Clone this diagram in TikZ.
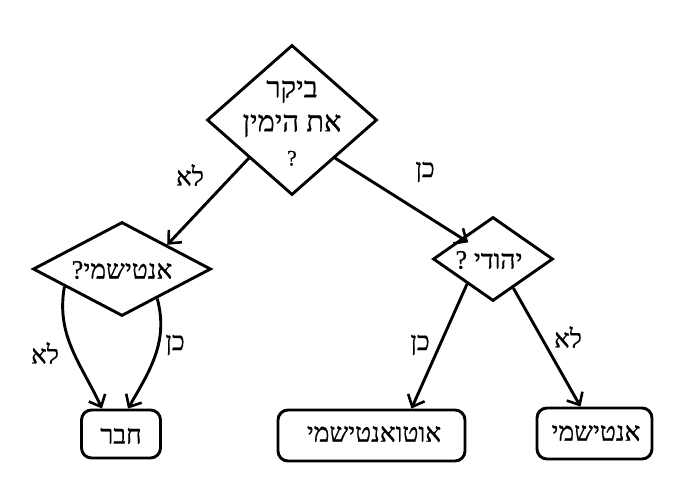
\documentclass[tikz,border=0pt]{standalone}
\usepackage{fontspec}
\usetikzlibrary{shapes.geometric,arrows.meta}
\TeXXeTstate=1
\newfontfamily\heb[Script=Hebrew,FakeBold=0.7]{Liberation Serif}
\begin{document}
\begin{tikzpicture}[x=1pt,y=-1pt,
  line width=2.9pt,
  every node/.style={inner sep=0pt},
  dia/.style={diamond,draw,line width=2.9pt},
  box/.style={draw,rounded corners=10pt,line width=2.9pt},
  arr/.style={-{Straight Barb[length=10pt,width=18pt,line width=2.6pt]},line width=2.9pt},
  big/.style={font=\heb\fontsize{29}{34}\selectfont,align=center},
  mid/.style={font=\heb\fontsize{26.5}{28}\selectfont},
  lab/.style={font=\heb\fontsize{26}{28}\selectfont}]
\useasboundingbox (0,0) rectangle (686,499);
% diamonds
\node[dia,minimum width=170pt,minimum height=150pt] (q1) at (292,120) {};
\node[big] (t1) at (292,123) {\beginR ביקר\endR\\\beginR את הימין\endR\\{\fontsize{22}{34}\selectfont ?}};
\node[dia,minimum width=178pt,minimum height=94pt] (q2) at (122,269) {};
\node[mid] (t2) at (122,270) {\beginR אנטישמי?\endR};
\node[dia,minimum width=120pt,minimum height=84pt] (q3) at (493,259) {};
\node[mid] (t3) at (489,260) {\beginR יהודי ?\endR};
% boxes
\node[box,minimum width=79pt,minimum height=48pt] (b1) at (121,434) {};
\node[mid] (bt1) at (121,436) {\beginR חבר\endR};
\node[box,minimum width=187pt,minimum height=51pt] (b2) at (371.5,435.5) {};
\node[mid] (bt2) at (374,434) {\beginR אוטואנטישמי\endR};
\node[box,minimum width=115pt,minimum height=51pt] (b3) at (594.5,433.5) {};
\node[mid] (bt3) at (596,433) {\beginR אנטישמי\endR};
% connectors
\draw[arr] (q1.south west) -- (q2.north east);
\draw[arr] (q1.south east) -- ([xshift=6pt,yshift=-5pt]q3.north west);
\draw[arr] (q2.197) to[out=-100,in=115] ([xshift=-19pt]b1.north);
\draw[arr] (q2.-40) to[out=-75,in=60] ([xshift=7pt]b1.north);
\draw[arr] (q3.224) -- ([xshift=40pt]b2.north);
\draw[arr] (q3.305) -- ([xshift=-14pt]b3.north);
% labels
\node[lab] (l1) at (190,175) {\beginR לא\endR};
\node[lab] (l2) at (425,172) {\beginR כן\endR};
\node[lab] (l3) at (45,353) {\beginR לא\endR};
\node[lab] (l4) at (175,345) {\beginR כן\endR};
\node[lab] (l5) at (420,345) {\beginR כן\endR};
\node[lab] (l6) at (568,337) {\beginR לא\endR};
\end{tikzpicture}
\end{document}
